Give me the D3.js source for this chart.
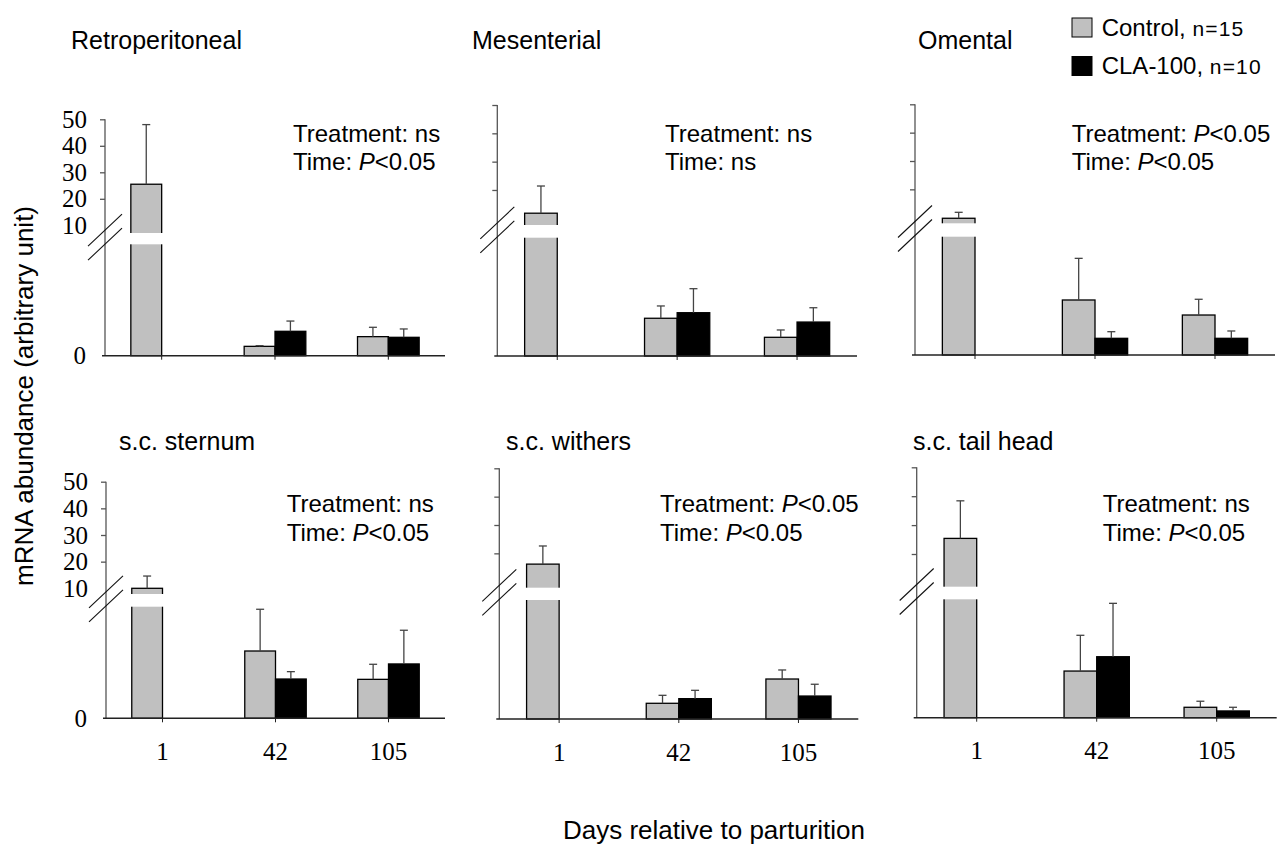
<!DOCTYPE html>
<html>
<head>
<meta charset="utf-8">
<script src="https://cdn.jsdelivr.net/npm/d3@7"></script>
<style>
    body { margin: 0; background: #fff; }
    .sans { font-family: "Liberation Sans", Arial, sans-serif; fill: #000; }
    .serif text { font-family: "Liberation Serif", "Times New Roman", serif; font-size: 25px; fill: #000; }
</style>
</head>
<body>
<div id="chart"></div>
<script>
// Values (lower segment in arbitrary units 0-10, day 1 control on the upper 10-50 scale)
const days = ['1', '42', '105'];
const panel_titles = ['Retroperitoneal', 'Mesenterial', 'Omental', 's.c. sternum', 's.c. withers', 's.c. tail head'];
const treatment_p = ['ns', 'ns', 'P<0.05', 'ns', 'P<0.05', 'ns'];
const time_p = ['P<0.05', 'ns', 'P<0.05', 'P<0.05', 'P<0.05', 'P<0.05'];

const day1_control = [25.5, 11.8, 9.8, 10.0, 16.2, 25.4];
const day1_control_se = [22.5, 9.6, 2.1, 4.6, 6.4, 13.0];
const control_42 = [0.84, 3.19, 4.65, 6.03, 1.32, 3.94];
const control_42_se = [0.06, 1.04, 3.52, 3.74, 0.67, 3.02];
const cla_42 = [2.19, 3.66, 1.41, 3.52, 1.71, 5.15];
const cla_42_se = [0.92, 2.03, 0.56, 0.66, 0.70, 4.51];
const control_105 = [1.71, 1.58, 3.38, 3.49, 3.36, 0.88];
const control_105_se = [0.84, 0.62, 1.33, 1.35, 0.76, 0.51];
const cla_105 = [1.65, 2.87, 1.41, 4.87, 1.93, 0.57];
const cla_105_se = [0.75, 1.21, 0.62, 3.02, 0.99, 0.31];

const upper_ticks = [10, 20, 30, 40, 50];
const legend_labels = [['Control, ', 'n=15'], ['CLA-100, ', 'n=10']];

const chart_width = 1280;
const chart_height = 847;
const control_color = '#c0c0c0';
const cla_color = '#000';

// Panel frames in pixels
const panels = [
    { x0: 105, x1: 445, zero: 355.7, top: 119.3, y10: 225.3, gap: [233, 244.3], labels: true, title: [71, 49], note: [293, 141.5] },
    { x0: 497.3, x1: 857, zero: 356, top: 105, y10: 218.3, gap: [225, 237.7], labels: false, title: [472, 49], note: [665, 141.5] },
    { x0: 915, x1: 1275, zero: 355, top: 104.3, y10: 217.7, gap: [223.3, 236.7], labels: false, title: [918, 49], note: [1071.7, 141.5] },
    { x0: 106, x1: 445, zero: 718.3, top: 481.7, y10: 588.3, gap: [594, 606.7], labels: true, title: [119, 450], note: [286.7, 512] },
    { x0: 499.3, x1: 858.3, zero: 719, top: 468.3, y10: 581.7, gap: [587.7, 600], labels: false, title: [506, 450], note: [660, 512] },
    { x0: 916.7, x1: 1276.7, zero: 717.7, top: 467.3, y10: 582.9, gap: [586.7, 599.3], labels: false, title: [913, 450], note: [1102.7, 512] },
];

const svg = d3.select('#chart')
    .append('svg')
    .attr('width', chart_width)
    .attr('height', chart_height);

panels.forEach((p, i) => {
    const g = svg.append('g');

    const x_scale = d3.scaleBand()
        .domain(days)
        .range([p.x0, p.x1]);
    const bar_w = x_scale.bandwidth() * 0.272;

    const upper = d3.scaleLinear().domain([10, 50]).range([p.y10, p.top]);
    const lower = d3.scaleLinear().domain([0, 10]).range([p.zero, p.gap[1]]);

    const bars = [
        { day: '1', side: -1, v: day1_control[i], se: day1_control_se[i], fill: control_color, broken: true },
        { day: '42', side: -1, v: control_42[i], se: control_42_se[i], fill: control_color },
        { day: '42', side: 0, v: cla_42[i], se: cla_42_se[i], fill: cla_color },
        { day: '105', side: -1, v: control_105[i], se: control_105_se[i], fill: control_color },
        { day: '105', side: 0, v: cla_105[i], se: cla_105_se[i], fill: cla_color },
    ];
    const y_of = d => d.broken ? upper : lower;
    const bar_x = d => x_scale(d.day) + x_scale.bandwidth() / 2 + d.side * bar_w;

    // Bars
    g.selectAll('rect.bar')
        .data(bars)
        .enter()
        .append('rect')
        .attr('class', 'bar')
        .attr('x', bar_x)
        .attr('width', bar_w)
        .attr('y', d => y_of(d)(d.v))
        .attr('height', d => lower(0) - y_of(d)(d.v))
        .attr('fill', d => d.fill)
        .attr('stroke', '#000')
        .attr('stroke-width', 1.3);

    // Error bars
    const err = g.append('g')
        .selectAll('g')
        .data(bars)
        .enter()
        .append('g')
        .attr('stroke', '#444')
        .attr('stroke-width', 1.3);
    err.append('line')
        .attr('x1', d => bar_x(d) + bar_w / 2)
        .attr('x2', d => bar_x(d) + bar_w / 2)
        .attr('y1', d => y_of(d)(d.v))
        .attr('y2', d => y_of(d)(d.v + d.se));
    err.append('line')
        .attr('x1', d => bar_x(d) + bar_w / 2 - 4)
        .attr('x2', d => bar_x(d) + bar_w / 2 + 4)
        .attr('y1', d => y_of(d)(d.v + d.se))
        .attr('y2', d => y_of(d)(d.v + d.se));

    // White gap through the broken bar
    g.selectAll('rect.gap')
        .data(bars.filter(d => d.broken))
        .enter()
        .append('rect')
        .attr('x', d => bar_x(d) - 2)
        .attr('width', bar_w + 4)
        .attr('y', p.gap[0])
        .attr('height', p.gap[1] - p.gap[0])
        .attr('fill', '#fff');

    // Y axis line + ticks
    g.append('line')
        .attr('x1', p.x0).attr('x2', p.x0)
        .attr('y1', lower(0)).attr('y2', upper(50))
        .attr('stroke', '#555')
        .attr('stroke-width', 1.3);

    const y_axis = d3.axisLeft(upper)
        .tickValues(upper_ticks)
        .tickSize(5)
        .tickPadding(13)
        .tickFormat(d => p.labels ? d : '');
    const ya = g.append('g')
        .attr('class', 'serif')
        .attr('transform', `translate(${p.x0}, 0)`)
        .call(y_axis);
    ya.select('.domain').remove();
    ya.selectAll('.tick line').attr('stroke', '#555').attr('stroke-width', 1.3)
        .filter(d => d === 10).remove();

    if (p.labels) {
        const zero_axis = d3.axisLeft(lower).tickValues([0]).tickSize(0).tickPadding(19);
        g.append('g')
            .attr('class', 'serif')
            .attr('transform', `translate(${p.x0}, 0)`)
            .call(zero_axis)
            .select('.domain').remove();
    }

    // Break marks
    const mid = (p.gap[0] + p.gap[1]) / 2 - 1.5;
    [-7, 7].forEach(off => {
        g.append('line')
            .attr('x1', p.x0 - 17).attr('y1', mid + off + 16)
            .attr('x2', p.x0 + 17).attr('y2', mid + off - 16)
            .attr('stroke', '#111')
            .attr('stroke-width', 1.1);
    });

    // X axis
    const x_axis = d3.axisBottom(x_scale)
        .tickSize(4)
        .tickSizeOuter(0)
        .tickPadding(20)
        .tickFormat(d => i >= 3 ? d : '');
    const xa = g.append('g')
        .attr('class', 'serif')
        .attr('transform', `translate(0, ${lower(0)})`)
        .call(x_axis);
    xa.select('.domain').attr('stroke', '#222').attr('stroke-width', 1.5)
        .attr('d', `M${p.x0 - 3},0H${p.x1}`);
    xa.selectAll('.tick line').attr('stroke', '#222');

    // Title
    g.append('text')
        .attr('class', 'sans')
        .attr('x', p.title[0])
        .attr('y', p.title[1])
        .attr('font-size', 25)
        .text(panel_titles[i]);

    // Statistics note
    const note = g.append('text')
        .attr('class', 'sans')
        .attr('font-size', 24);
    [['Treatment: ', treatment_p[i]], ['Time: ', time_p[i]]].forEach((row, k) => {
        note.append('tspan')
            .attr('x', p.note[0])
            .attr('y', p.note[1] + k * 28.5)
            .text(row[0]);
        if (row[1].startsWith('P')) {
            note.append('tspan').attr('font-style', 'italic').text('P');
            note.append('tspan').text(row[1].slice(1));
        } else {
            note.append('tspan').text(row[1]);
        }
    });
});

// Legend
const legend = svg.append('g');
legend_labels.forEach((lab, k) => {
    legend.append('rect')
        .attr('x', 1072)
        .attr('y', 18 + k * 38.5)
        .attr('width', 20)
        .attr('height', 19)
        .attr('fill', k === 0 ? control_color : cla_color)
        .attr('stroke', '#000')
        .attr('stroke-width', 1);
    const t = legend.append('text')
        .attr('class', 'sans')
        .attr('x', 1101.7)
        .attr('y', 36 + k * 38)
        .attr('font-size', 24)
        .text(lab[0]);
    t.append('tspan')
        .attr('font-size', 21)
        .attr('letter-spacing', 1.2)
        .text(lab[1]);
});

// Axis titles
svg.append('text')
    .attr('class', 'sans')
    .attr('transform', 'translate(33, 396) rotate(-90)')
    .attr('text-anchor', 'middle')
    .attr('font-size', 26)
    .text('mRNA abundance (arbitrary unit)');

svg.append('text')
    .attr('class', 'sans')
    .attr('x', 714)
    .attr('y', 839)
    .attr('text-anchor', 'middle')
    .attr('font-size', 26)
    .text('Days relative to parturition');
</script>
</body>
</html>
